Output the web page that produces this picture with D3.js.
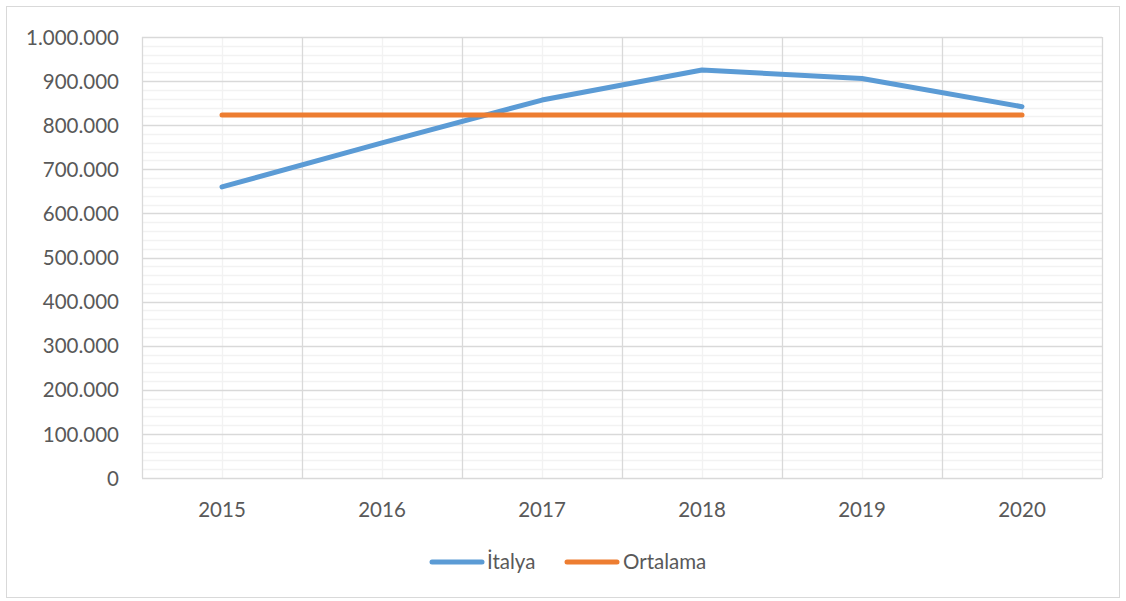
<!DOCTYPE html>
<html><head><meta charset="utf-8">
<script src="https://cdn.jsdelivr.net/npm/d3@7"></script>
<style>body{margin:0;background:#fff}svg{display:block}text{font-family:Lato,"Open Sans",sans-serif;fill:#595959}</style>
</head><body><svg id="c" width="1126" height="601"></svg>
<script>
const years = ["2015","2016","2017","2018","2019","2020"];
const italya = [660000, 760000, 857000, 925000, 906000, 842000];
const ortalama = [823000, 823000, 823000, 823000, 823000, 823000];
const yTicks = [0,100000,200000,300000,400000,500000,600000,700000,800000,900000,1000000];
const seriesNames = ["İtalya","Ortalama"];
const colors = ["#5B9BD5","#ED7D31"];
const FS = 20.5;

const svg = d3.select("#c");
svg.append("rect").attr("x",6.5).attr("y",6.5).attr("width",1113).attr("height",591).attr("fill","#fff").attr("stroke","#d9d9d9");
const L=142,R=1102,T=37,B=478;
const x = d3.scaleBand().domain(years).range([L,R]);
const y = d3.scaleLinear().domain([0,1000000]).range([B,T]);
const g = svg.append("g");
d3.range(0,1000001,20000).filter(v=>v%100000!==0).forEach(v=>{
  g.append("line").attr("x1",L).attr("x2",R).attr("y1",Math.round(y(v))+0.5).attr("y2",Math.round(y(v))+0.5).attr("stroke","#f2f2f2").attr("stroke-width",1.3);
});
years.forEach(d=>{
  const cx=Math.round(x(d)+x.bandwidth()/2)+0.5;
  g.append("line").attr("x1",cx).attr("x2",cx).attr("y1",T).attr("y2",B).attr("stroke","#f2f2f2").attr("stroke-width",1.3);
});
yTicks.forEach(v=>{
  g.append("line").attr("x1",L).attr("x2",R).attr("y1",Math.round(y(v))+0.5).attr("y2",Math.round(y(v))+0.5).attr("stroke","#d9d9d9").attr("stroke-width",1.3);
});
years.concat(["end"]).forEach((d,i)=>{
  const bx=Math.round(L+i*x.bandwidth())+0.5;
  g.append("line").attr("x1",bx).attr("x2",bx).attr("y1",T).attr("y2",B).attr("stroke","#d9d9d9").attr("stroke-width",1.3);
});
const fmt = v=> d3.format(",")(v).replace(/,/g,".");
const ya = d3.axisLeft(y).tickValues(yTicks).tickFormat(fmt).tickSize(0).tickPadding(23);
const yg = svg.append("g").attr("transform",`translate(${L},0)`).call(ya);
yg.select(".domain").remove();
yg.selectAll("text").attr("font-size",FS).style("font-family","Lato,'Open Sans',sans-serif").attr("fill","#595959").attr("dy","0.35em");
const xa = d3.axisBottom(x).tickSize(0).tickPadding(24);
const xg = svg.append("g").attr("transform",`translate(0,${B})`).call(xa);
xg.select(".domain").remove();
xg.selectAll("text").attr("font-size",FS).style("font-family","Lato,'Open Sans',sans-serif").attr("fill","#595959");
const line = d3.line().x((d,i)=>x(years[i])+x.bandwidth()/2).y(d=>y(d));
[italya, ortalama].forEach((s,i)=>{
  svg.append("path").datum(s).attr("d",line).attr("fill","none").attr("stroke",colors[i]).attr("stroke-width",5).attr("stroke-linecap","round").attr("stroke-linejoin","round");
});
const leg = [{x:432,tx:487},{x:567,tx:623}];
seriesNames.forEach((n,i)=>{
  svg.append("line").attr("x1",leg[i].x).attr("x2",leg[i].x+50).attr("y1",562).attr("y2",562).attr("stroke",colors[i]).attr("stroke-width",5).attr("stroke-linecap","round");
  svg.append("text").attr("x",leg[i].tx).attr("y",562).attr("dy","0.35em").attr("font-size",FS).text(n);
});
</script></body></html>
